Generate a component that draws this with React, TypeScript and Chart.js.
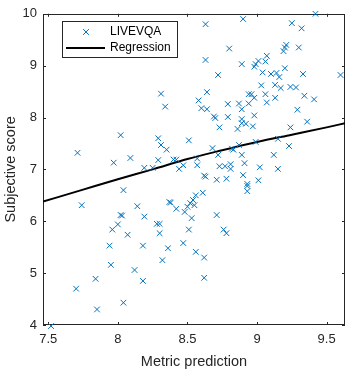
import React, { useEffect, useRef } from "react";
import { Chart, registerables } from "chart.js";

Chart.register(...registerables);

const seriesLabels = ["LIVEVQA", "Regression"];
const xAxisTitle = "Metric prediction";
const yAxisTitle = "Subjective score";
const xTickValues = [7.5, 8, 8.5, 9, 9.5];
const yTickValues = [4, 5, 6, 7, 8, 9, 10];

const metricPrediction = [
  8.31, 8.34, 8.02, 7.71, 8.29, 8.31, 8.35, 8.51, 7.97, 8.09,
  8.29, 8.40, 8.42, 8.47, 8.44, 8.19, 8.25, 8.57, 8.04, 7.74,
  8.14, 8.37, 8.38, 8.42, 8.02, 8.03, 8.19, 8.00, 8.28, 8.30,
  7.96, 8.07, 8.30, 8.51, 7.94, 8.18, 8.36, 8.47, 8.56, 8.32,
  7.95, 8.12, 7.84, 8.18, 7.70, 8.04, 7.85, 7.52, 8.61, 8.56,
  8.54, 8.52, 8.55, 8.50, 8.48, 8.53, 8.73, 8.77, 8.81, 8.81,
  8.91, 9.02, 9.15, 8.62, 8.63, 8.71, 8.78, 8.90, 8.93, 8.93,
  8.93, 9.01, 8.71, 8.76, 8.78, 8.62, 8.62, 8.63, 8.90, 9.42,
  9.25, 9.32, 8.80, 8.63, 8.89, 8.72, 9.21, 9.20, 9.19, 9.30,
  9.07, 9.06, 9.01, 8.99, 8.98, 9.04, 9.20, 9.10, 9.14, 9.16,
  9.33, 9.60, 9.03, 9.13, 9.17, 9.24, 9.28, 8.64, 8.94, 8.96,
  8.98, 9.06, 9.13, 9.34, 9.41, 8.58, 9.07, 8.60, 8.64, 8.79,
  8.87, 8.89, 8.94, 9.29, 8.69, 8.70, 8.79, 8.98, 8.89, 8.89,
  8.92, 8.97, 8.73, 8.86, 9.24, 9.36, 8.99, 9.15, 8.68, 8.82,
  8.83, 8.87, 9.23, 8.72, 8.89, 9.12, 8.57,
];

const subjectiveScore = [
  8.46, 8.21, 7.66, 7.32, 7.60, 7.47, 7.38, 7.56, 7.13, 7.22,
  7.18, 7.19, 7.19, 7.08, 7.01, 7.03, 7.03, 7.08, 6.60, 6.31,
  6.29, 6.37, 6.36, 6.24, 6.12, 6.11, 6.09, 5.94, 5.95, 5.95,
  5.84, 5.74, 5.77, 5.84, 5.53, 5.53, 5.48, 5.58, 5.41, 5.25,
  5.16, 5.06, 4.89, 4.85, 4.70, 4.43, 4.30, 3.98, 6.55, 6.50,
  6.41, 6.35, 6.31, 6.28, 6.18, 6.06, 7.06, 7.06, 7.10, 7.01,
  7.12, 7.04, 7.01, 6.88, 6.86, 6.80, 6.82, 6.89, 6.72, 6.68,
  6.58, 6.79, 6.12, 5.84, 5.77, 5.30, 4.91, 9.80, 9.90, 10.0,
  9.82, 9.72, 9.33, 9.11, 9.03, 8.82, 9.40, 9.35, 9.28, 9.35,
  9.19, 9.08, 9.09, 9.03, 8.98, 8.87, 8.95, 8.84, 8.86, 8.78,
  8.84, 8.82, 8.62, 8.63, 8.57, 8.59, 8.58, 8.49, 8.45, 8.45,
  8.38, 8.45, 8.38, 8.42, 8.35, 8.33, 8.29, 8.18, 8.16, 8.26,
  8.27, 8.16, 8.27, 8.15, 8.02, 7.99, 8.01, 8.04, 7.97, 7.89,
  7.88, 7.83, 7.81, 7.78, 7.81, 7.92, 7.53, 7.59, 7.41, 7.40,
  7.38, 7.47, 7.45, 7.28, 7.28, 7.28, 7.21,
];

const regressionX = [7.462, 7.75, 8.0, 8.25, 8.5, 8.75, 9.0, 9.25, 9.5, 9.632];
const regressionY = [6.38, 6.61, 6.81, 7.0, 7.2, 7.37, 7.53, 7.67, 7.81, 7.89];

const FONT = '"Liberation Sans", Arial, Helvetica, sans-serif';
const AXIS_COLOR = "#262626";
const MARKER_COLOR = "#0072BD";

const matlabAxes = {
  id: "matlabAxes",
  beforeDatasetsDraw(chart: any) {
    const { ctx, chartArea } = chart;
    const { left, right, top, bottom } = chartArea;
    const xs = chart.scales.x;
    const ys = chart.scales.y;
    const tl = 3;
    ctx.save();
    ctx.strokeStyle = AXIS_COLOR;
    ctx.lineWidth = 1;
    ctx.beginPath();
    for (const t of xs.ticks) {
      const px = Math.round(xs.getPixelForValue(t.value)) + 0.5;
      ctx.moveTo(px, bottom);
      ctx.lineTo(px, bottom - tl);
      ctx.moveTo(px, top);
      ctx.lineTo(px, top + tl);
    }
    for (const t of ys.ticks) {
      const py = Math.round(ys.getPixelForValue(t.value)) + 0.5;
      ctx.moveTo(left, py);
      ctx.lineTo(left + tl, py);
      ctx.moveTo(right, py);
      ctx.lineTo(right - tl, py);
    }
    ctx.stroke();
    ctx.strokeRect(Math.round(left) + 0.5, Math.round(top) + 0.5, Math.round(right - left) - 1, Math.round(bottom - top) - 1);
    ctx.restore();
  },
  afterDraw(chart: any) {
    const { ctx, chartArea } = chart;
    const ds = chart.data.datasets;
    const x0 = Math.round(chartArea.left + 19);
    const y0 = Math.round(chartArea.top + 7);
    const w = 115;
    const h = 36;
    ctx.save();
    ctx.fillStyle = "#ffffff";
    ctx.fillRect(x0, y0, w, h);
    ctx.strokeStyle = AXIS_COLOR;
    ctx.lineWidth = 1;
    ctx.strokeRect(x0 + 0.5, y0 + 0.5, w, h);
    const mx = x0 + 24;
    const my = y0 + 11;
    const r = 2.9;
    ctx.strokeStyle = ds[0].borderColor;
    ctx.lineWidth = 1;
    ctx.beginPath();
    ctx.moveTo(mx - r, my - r);
    ctx.lineTo(mx + r, my + r);
    ctx.moveTo(mx - r, my + r);
    ctx.lineTo(mx + r, my - r);
    ctx.stroke();
    const ly = y0 + 27;
    ctx.strokeStyle = ds[1].borderColor;
    ctx.lineWidth = 2;
    ctx.beginPath();
    ctx.moveTo(x0 + 4, ly);
    ctx.lineTo(x0 + 43, ly);
    ctx.stroke();
    ctx.fillStyle = "#000000";
    ctx.font = `12px ${FONT}`;
    ctx.textBaseline = "middle";
    ctx.textAlign = "left";
    ctx.fillText(ds[0].label, x0 + 48, my);
    ctx.fillText(ds[1].label, x0 + 48, ly);
    ctx.restore();
  },
};

export default function App() {
  const canvasRef = useRef<HTMLCanvasElement | null>(null);

  useEffect(() => {
    const canvas = canvasRef.current;
    if (!canvas) return;
    const scatterData = metricPrediction.map((x, i) => ({ x, y: subjectiveScore[i] }));
    const lineData = regressionX.map((x, i) => ({ x, y: regressionY[i] }));

    const chart = new Chart(canvas, {
      type: "scatter",
      data: {
        datasets: [
          {
            label: seriesLabels[0],
            data: scatterData,
            pointStyle: "crossRot",
            pointRadius: 4,
            pointHoverRadius: 4,
            borderColor: MARKER_COLOR,
            backgroundColor: MARKER_COLOR,
            borderWidth: 1,
            showLine: false,
            clip: false as any,
          },
          {
            type: "line",
            label: seriesLabels[1],
            data: lineData,
            borderColor: "#000000",
            backgroundColor: "#000000",
            borderWidth: 2,
            pointRadius: 0,
            showLine: true,
            cubicInterpolationMode: "monotone",
            fill: false,
          } as any,
        ],
      },
      options: {
        responsive: false,
        animation: false,
        devicePixelRatio: 1,
        layout: { padding: { left: 0, top: 9, right: 4, bottom: 0 } },
        plugins: {
          legend: { display: false },
          tooltip: { enabled: false },
        },
        scales: {
          x: {
            type: "linear",
            min: 7.462,
            max: 9.632,
            grid: { display: false, drawTicks: false },
            border: { display: false },
            afterBuildTicks: (s: any) => {
              s.ticks = xTickValues.map((v) => ({ value: v }));
            },
            afterFit: (s: any) => {
              s.height = 48;
            },
            ticks: {
              padding: 7,
              color: AXIS_COLOR,
              font: { family: FONT, size: 13 },
              maxRotation: 0,
              callback: (v: any) => String(v),
            },
            title: {
              display: true,
              text: xAxisTitle,
              color: AXIS_COLOR,
              font: { family: FONT, size: 14.5 },
              padding: { top: 0, bottom: 2 },
            },
          },
          y: {
            type: "linear",
            min: 4,
            max: 10,
            grid: { display: false, drawTicks: false },
            border: { display: false },
            afterBuildTicks: (s: any) => {
              s.ticks = yTickValues.map((v) => ({ value: v }));
            },
            afterFit: (s: any) => {
              s.width = 43;
            },
            ticks: {
              padding: 6,
              color: AXIS_COLOR,
              font: { family: FONT, size: 13 },
              callback: (v: any) => String(v),
            },
            title: {
              display: true,
              text: yAxisTitle,
              color: AXIS_COLOR,
              font: { family: FONT, size: 14.5 },
              padding: { top: 2, bottom: 0 },
            },
          },
        },
      },
      plugins: [matlabAxes as any],
    });
    return () => chart.destroy();
  }, []);

  return (
    <div style={{ position: "fixed", left: 0, top: 0, width: 350, height: 373, background: "#ffffff" }}>
      <canvas ref={canvasRef} width={350} height={373} style={{ display: "block", width: 350, height: 373 }} />
    </div>
  );
}
